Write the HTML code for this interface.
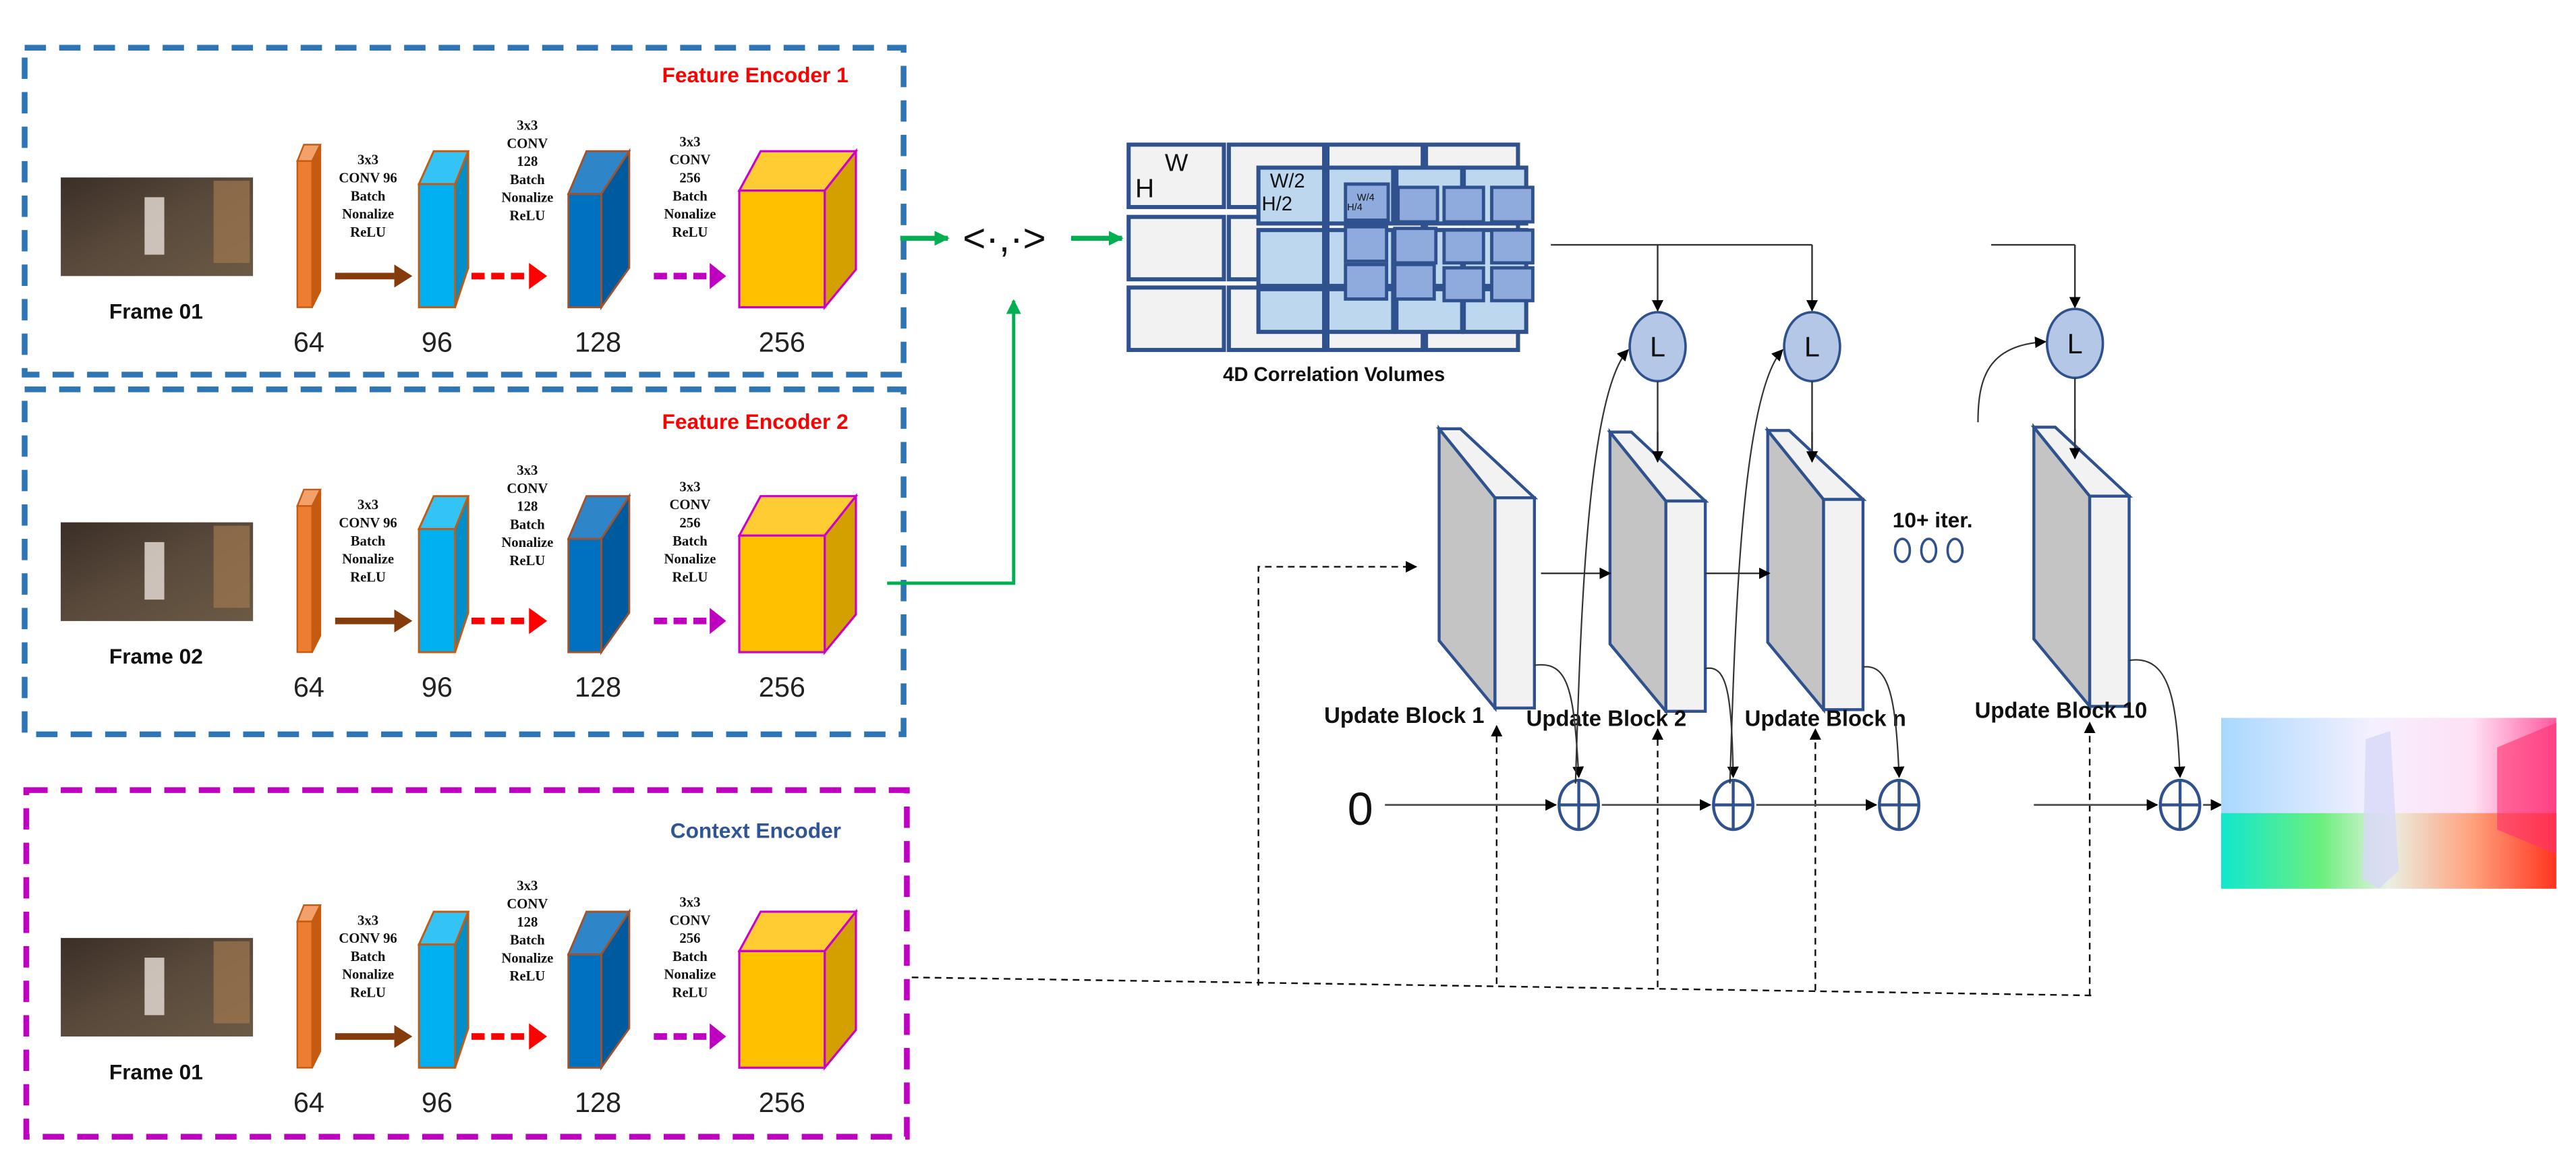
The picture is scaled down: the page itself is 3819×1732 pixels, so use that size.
<!DOCTYPE html>
<html><head><meta charset="utf-8"><style>
html,body{margin:0;padding:0;background:#fff;}
svg{display:block;}
text{font-family:"Liberation Sans",sans-serif;}
.cv{font-family:"Liberation Serif",serif;font-weight:bold;font-size:8.5px;fill:#111;text-anchor:middle;}
.num{font-size:17px;fill:#222;text-anchor:middle;}
.ub{font-size:13.5px;font-weight:bold;fill:#111;}
</style></head><body>
<svg width="3819" height="1732" viewBox="0 0 1568 711" xmlns="http://www.w3.org/2000/svg">
<defs>
<marker id="ak" viewBox="0 0 10 10" refX="9" refY="5" markerWidth="7" markerHeight="7" orient="auto" markerUnits="userSpaceOnUse"><path d="M0,0L10,5L0,10z" fill="#000"/></marker>
<marker id="ag" viewBox="0 0 10 10" refX="9" refY="5" markerWidth="9" markerHeight="9" orient="auto" markerUnits="userSpaceOnUse"><path d="M0,0L10,5L0,10z" fill="#00b050"/></marker>
<linearGradient id="ph" x1="0" y1="0" x2="1" y2="1"><stop offset="0" stop-color="#3a2e26"/><stop offset="0.5" stop-color="#5a4a3c"/><stop offset="1" stop-color="#6b5a44"/></linearGradient>
<linearGradient id="fl1" x1="0" y1="0" x2="1" y2="0"><stop offset="0" stop-color="#a8d8ff"/><stop offset="0.45" stop-color="#f4f0ff"/><stop offset="0.75" stop-color="#ffe0f4"/><stop offset="1" stop-color="#ff5aa0"/></linearGradient>
<linearGradient id="fl2" x1="0" y1="0" x2="1" y2="0"><stop offset="0" stop-color="#00e8c8"/><stop offset="0.3" stop-color="#60f070"/><stop offset="0.5" stop-color="#e8f0e0"/><stop offset="0.75" stop-color="#ff9a70"/><stop offset="1" stop-color="#ff3010"/></linearGradient>
<g id="enc">
  <rect x="37" y="108" width="117" height="60" fill="url(#ph)"/>
  <rect x="130" y="110" width="22" height="50" fill="#a07850" opacity="0.7"/>
  <rect x="88" y="120" width="12" height="35" fill="#e8e0d8" opacity="0.8"/>
  <text x="95" y="194" font-size="13" font-weight="bold" text-anchor="middle" fill="#111">Frame 01</text>
  <polygon points="181,98 185,88 195,88 190,98" fill="#f4a06a" stroke="#c55a11" stroke-width="1"/>
  <polygon points="190,98 195,88 195,177 190,187" fill="#c55a11" stroke="#c55a11" stroke-width="1"/>
  <rect x="181" y="98" width="9" height="89" fill="#ed7d31" stroke="#c55a11" stroke-width="1"/>
  <line x1="204" y1="168" x2="240" y2="168" stroke="#843c0c" stroke-width="4"/>
  <polygon points="240,161 251,168 240,175" fill="#843c0c"/>
  <polygon points="255,112 264,92 285,92 277,112" fill="#33c3f5" stroke="#c55a11" stroke-width="1.2"/>
  <polygon points="277,112 285,92 285,163 277,187" fill="#008fc8" stroke="#c55a11" stroke-width="1.2"/>
  <rect x="255" y="112" width="22" height="75" fill="#00b0f0" stroke="#c55a11" stroke-width="1.2"/>
  <line x1="287" y1="168" x2="322" y2="168" stroke="#ff0000" stroke-width="4" stroke-dasharray="8 4"/>
  <polygon points="322,160 333,168 322,176" fill="#ff0000"/>
  <polygon points="346,118 357,92 383,92 366,118" fill="#2e86c9" stroke="#a0522d" stroke-width="1.2"/>
  <polygon points="366,118 383,92 383,163 366,187" fill="#005a9e" stroke="#a0522d" stroke-width="1.2"/>
  <rect x="346" y="118" width="20" height="69" fill="#0070c0" stroke="#a0522d" stroke-width="1.2"/>
  <line x1="398" y1="168" x2="432" y2="168" stroke="#c000c0" stroke-width="4" stroke-dasharray="8 4"/>
  <polygon points="432,160 442,168 432,176" fill="#c000c0"/>
  <polygon points="450,116 463,92 521,92 502,116" fill="#ffcc33" stroke="#cc00cc" stroke-width="1.3"/>
  <polygon points="502,116 521,92 521,164 502,187" fill="#d4a000" stroke="#cc00cc" stroke-width="1.3"/>
  <rect x="450" y="116" width="52" height="71" fill="#ffc000" stroke="#cc00cc" stroke-width="1.3"/>
  <text class="cv" x="224" y="100">3x3</text><text class="cv" x="224" y="111">CONV 96</text><text class="cv" x="224" y="122">Batch</text><text class="cv" x="224" y="133">Nonalize</text><text class="cv" x="224" y="144">ReLU</text>
  <text class="cv" x="321" y="79">3x3</text><text class="cv" x="321" y="90">CONV</text><text class="cv" x="321" y="101">128</text><text class="cv" x="321" y="112">Batch</text><text class="cv" x="321" y="123">Nonalize</text><text class="cv" x="321" y="134">ReLU</text>
  <text class="cv" x="420" y="89">3x3</text><text class="cv" x="420" y="100">CONV</text><text class="cv" x="420" y="111">256</text><text class="cv" x="420" y="122">Batch</text><text class="cv" x="420" y="133">Nonalize</text><text class="cv" x="420" y="144">ReLU</text>
  <text class="num" x="188" y="214">64</text>
  <text class="num" x="266" y="214">96</text>
  <text class="num" x="364" y="214">128</text>
  <text class="num" x="476" y="214">256</text>
</g>
</defs>

<!-- Encoder boxes -->
<rect x="15" y="29" width="535" height="199" fill="none" stroke="#2e75b6" stroke-width="3.5" stroke-dasharray="13 8"/>
<rect x="15" y="237" width="535" height="210" fill="none" stroke="#2e75b6" stroke-width="3.5" stroke-dasharray="13 8"/>
<rect x="16" y="481" width="536" height="211" fill="none" stroke="#c000c0" stroke-width="3.5" stroke-dasharray="13 8"/>

<use href="#enc"/>
<g transform="translate(0,210)">
  <rect x="37" y="108" width="117" height="60" fill="url(#ph)"/>
  <rect x="88" y="120" width="12" height="35" fill="#e8e0d8" opacity="0.8"/>
  <rect x="38" y="170" width="118" height="24" fill="#fff"/>
  <text x="95" y="194" font-size="13" font-weight="bold" text-anchor="middle" fill="#111">Frame 02</text>
</g>
<use href="#enc" transform="translate(0,210)"/>
<rect x="38" y="380" width="118" height="24" fill="#fff"/>
<text x="95" y="404" font-size="13" font-weight="bold" text-anchor="middle" fill="#111">Frame 02</text>
<use href="#enc" transform="translate(0,463)"/>

<text x="403" y="50" font-size="13" font-weight="bold" fill="#ff0000">Feature Encoder 1</text>
<text x="403" y="261" font-size="13" font-weight="bold" fill="#ff0000">Feature Encoder 2</text>
<text x="408" y="510" font-size="13" font-weight="bold" fill="#2f5597">Context Encoder</text>

<!-- green arrows -->
<line x1="548" y1="145" x2="577" y2="145" stroke="#00b050" stroke-width="3" marker-end="url(#ag)"/>
<text x="586" y="153" font-size="24" fill="#111">&lt;·,·&gt;</text>
<line x1="652" y1="145" x2="683" y2="145" stroke="#00b050" stroke-width="3" marker-end="url(#ag)"/>
<path d="M540,355 L617,355 L617,183" fill="none" stroke="#00b050" stroke-width="2" marker-end="url(#ag)"/>

<!-- correlation volumes -->
<g stroke="#2f528f" stroke-width="2.5" fill="#f2f2f2">
  <rect x="687" y="88" width="58" height="38"/><rect x="748" y="88" width="58" height="38"/><rect x="808" y="88" width="58" height="38"/><rect x="868" y="88" width="56" height="38"/>
  <rect x="687" y="132" width="58" height="38"/><rect x="748" y="132" width="58" height="38"/><rect x="808" y="132" width="58" height="38"/><rect x="868" y="132" width="56" height="38"/>
  <rect x="687" y="175" width="58" height="38"/><rect x="748" y="175" width="58" height="38"/><rect x="808" y="175" width="58" height="38"/><rect x="868" y="175" width="56" height="38"/>
</g>
<g stroke="#2f528f" stroke-width="2.5" fill="#bdd7ee">
  <rect x="766" y="102" width="40" height="34"/><rect x="808" y="102" width="40" height="34"/><rect x="850" y="102" width="40" height="34"/><rect x="891" y="102" width="38" height="34"/>
  <rect x="766" y="140" width="40" height="34"/><rect x="808" y="140" width="40" height="34"/><rect x="850" y="140" width="40" height="34"/><rect x="891" y="140" width="38" height="34"/>
  <rect x="766" y="176" width="40" height="26"/><rect x="808" y="176" width="40" height="26"/><rect x="850" y="176" width="40" height="26"/><rect x="891" y="176" width="38" height="26"/>
</g>
<g stroke="#2f528f" stroke-width="2" fill="#8faadc">
  <rect x="819" y="112" width="26" height="22"/><rect x="851" y="114" width="24" height="21"/><rect x="879" y="114" width="24" height="21"/><rect x="908" y="114" width="25" height="21"/>
  <rect x="819" y="138" width="25" height="21"/><rect x="849" y="139" width="25" height="21"/><rect x="879" y="140" width="24" height="20"/><rect x="908" y="140" width="25" height="20"/>
  <rect x="819" y="161" width="25" height="21"/><rect x="849" y="161" width="24" height="21"/><rect x="879" y="163" width="24" height="20"/><rect x="908" y="163" width="25" height="20"/>
</g>
<text x="691" y="120" font-size="16" fill="#111">H</text>
<text x="709" y="104" font-size="15" fill="#111">W</text>
<text x="773" y="114" font-size="12" fill="#111">W/2</text>
<text x="768" y="128" font-size="12" fill="#111">H/2</text>
<text x="826" y="122" font-size="6" fill="#111">W/4</text>
<text x="820" y="128" font-size="6" fill="#111">H/4</text>
<text x="812" y="232" font-size="12" font-weight="bold" fill="#111" text-anchor="middle">4D Correlation Volumes</text>

<!-- top lines to L -->
<path d="M944,149 L1103,149" stroke="#333" stroke-width="1" fill="none"/>
<line x1="1009" y1="149" x2="1009" y2="189" stroke="#333" stroke-width="1" marker-end="url(#ak)"/>
<line x1="1103" y1="149" x2="1103" y2="189" stroke="#333" stroke-width="1" marker-end="url(#ak)"/>
<path d="M1212,149 L1263,149" stroke="#333" stroke-width="1" fill="none"/>
<line x1="1263" y1="149" x2="1263" y2="187" stroke="#333" stroke-width="1" marker-end="url(#ak)"/>
<g fill="#b4c7e7" stroke="#2f528f" stroke-width="1.5">
  <ellipse cx="1009" cy="211" rx="17" ry="21"/><ellipse cx="1103" cy="211" rx="17" ry="21"/><ellipse cx="1263" cy="209" rx="17" ry="21"/>
</g>
<g font-size="17" fill="#111" text-anchor="middle"><text x="1009" y="217">L</text><text x="1103" y="217">L</text><text x="1263" y="215">L</text></g>
<line x1="1009" y1="232" x2="1009" y2="281" stroke="#333" stroke-width="1" marker-end="url(#ak)"/>
<line x1="1103" y1="232" x2="1103" y2="281" stroke="#333" stroke-width="1" marker-end="url(#ak)"/>
<line x1="1263" y1="230" x2="1263" y2="279" stroke="#333" stroke-width="1" marker-end="url(#ak)"/>

<!-- update blocks -->
<g stroke="#2f528f" stroke-width="1.8">
  <g><polygon points="876,261 910,303 910,431 876,390" fill="#c4c4c4"/><polygon points="876,261 889,261 934,303 910,303" fill="#f2f2f2"/><rect x="910" y="303" width="24" height="128" fill="#f2f2f2"/></g>
  <g transform="translate(104,2)"><polygon points="876,261 910,303 910,431 876,390" fill="#c4c4c4"/><polygon points="876,261 889,261 934,303 910,303" fill="#f2f2f2"/><rect x="910" y="303" width="24" height="128" fill="#f2f2f2"/></g>
  <g transform="translate(200,1)"><polygon points="876,261 910,303 910,431 876,390" fill="#c4c4c4"/><polygon points="876,261 889,261 934,303 910,303" fill="#f2f2f2"/><rect x="910" y="303" width="24" height="128" fill="#f2f2f2"/></g>
  <g transform="translate(362,-1)"><polygon points="876,261 910,303 910,431 876,390" fill="#c4c4c4"/><polygon points="876,261 889,261 934,303 910,303" fill="#f2f2f2"/><rect x="910" y="303" width="24" height="128" fill="#f2f2f2"/></g>
</g>
<line x1="1009" y1="263" x2="1009" y2="281" stroke="#333" stroke-width="1" marker-end="url(#ak)"/>
<line x1="1103" y1="263" x2="1103" y2="281" stroke="#333" stroke-width="1" marker-end="url(#ak)"/>
<line x1="1263" y1="261" x2="1263" y2="279" stroke="#333" stroke-width="1" marker-end="url(#ak)"/>

<text class="ub" x="806" y="440">Update Block 1</text>
<text class="ub" x="929" y="442">Update Block 2</text>
<text class="ub" x="1062" y="442">Update Block n</text>
<text class="ub" x="1202" y="437">Update Block 10</text>
<text x="1152" y="321" font-size="13" font-weight="bold" fill="#111">10+ iter.</text>
<g fill="none" stroke="#2f528f" stroke-width="1.5"><ellipse cx="1158" cy="335" rx="4.5" ry="7"/><ellipse cx="1174" cy="335" rx="4.5" ry="7"/><ellipse cx="1190" cy="335" rx="4.5" ry="7"/></g>

<!-- horizontal solid between blocks -->
<line x1="938" y1="349" x2="980" y2="349" stroke="#333" stroke-width="1" marker-end="url(#ak)"/>
<line x1="1038" y1="349" x2="1077" y2="349" stroke="#333" stroke-width="1" marker-end="url(#ak)"/>

<!-- dashed context -->
<g stroke="#111" stroke-width="1" fill="none" stroke-dasharray="4 3">
  <path d="M555,595 L1273,606"/>
  <path d="M766,600 L766,345 L862,345" marker-end="url(#ak)"/>
  <path d="M911,599 L911,442" marker-end="url(#ak)"/>
  <path d="M1009,601 L1009,444" marker-end="url(#ak)"/>
  <path d="M1105,603 L1105,444" marker-end="url(#ak)"/>
  <path d="M1272,606 L1272,440" marker-end="url(#ak)"/>
</g>

<!-- bottom flow line -->
<text x="828" y="502" font-size="28" fill="#111" text-anchor="middle">0</text>
<g stroke="#555" stroke-width="1.2">
  <line x1="843" y1="490" x2="947" y2="490" marker-end="url(#ak)"/>
  <line x1="975" y1="490" x2="1041" y2="490" marker-end="url(#ak)"/>
  <line x1="1069" y1="490" x2="1142" y2="490" marker-end="url(#ak)"/>
  <line x1="1238" y1="490" x2="1313" y2="490" marker-end="url(#ak)"/>
  <line x1="1341" y1="490" x2="1352" y2="490" marker-end="url(#ak)"/>
</g>
<g fill="#fff" stroke="#2f528f" stroke-width="1.8">
  <ellipse cx="961" cy="490" rx="12" ry="15"/><ellipse cx="1055" cy="490" rx="12" ry="15"/><ellipse cx="1156" cy="490" rx="12" ry="15"/><ellipse cx="1327" cy="490" rx="12" ry="15"/>
</g>
<g stroke="#2f528f" stroke-width="1.8">
  <line x1="949" y1="490" x2="973" y2="490"/><line x1="961" y1="475" x2="961" y2="505"/>
  <line x1="1043" y1="490" x2="1067" y2="490"/><line x1="1055" y1="475" x2="1055" y2="505"/>
  <line x1="1144" y1="490" x2="1168" y2="490"/><line x1="1156" y1="475" x2="1156" y2="505"/>
  <line x1="1315" y1="490" x2="1339" y2="490"/><line x1="1327" y1="475" x2="1327" y2="505"/>
</g>

<!-- curves from blocks to plus -->
<g stroke="#333" stroke-width="0.9" fill="none">
  <path d="M934,405 C955,402 958,420 961,473" marker-end="url(#ak)"/>
  <path d="M1038,407 C1052,404 1054,425 1055,473" marker-end="url(#ak)"/>
  <path d="M1134,406 C1150,404 1154,425 1156,473" marker-end="url(#ak)"/>
  <path d="M1296,402 C1322,398 1325,430 1327,473" marker-end="url(#ak)"/>
  <path d="M959,477 C962,380 966,240 991,213" marker-end="url(#ak)"/>
  <path d="M1053,477 C1056,380 1060,240 1085,213" marker-end="url(#ak)"/>
  <path d="M1204,257 C1204,230 1210,210 1245,208" marker-end="url(#ak)"/>
</g>

<!-- flow output image -->
<rect x="1352" y="437" width="204" height="104" fill="url(#fl1)"/>
<rect x="1352" y="495" width="204" height="46" fill="url(#fl2)" opacity="0.9"/>
<path d="M1440,450 L1455,445 L1460,530 L1448,541 L1438,535z" fill="#d8d8f8" opacity="0.8"/>
<path d="M1520,455 L1556,440 L1556,520 L1520,505z" fill="#ff3070" opacity="0.6"/>
</svg>
</body></html>
